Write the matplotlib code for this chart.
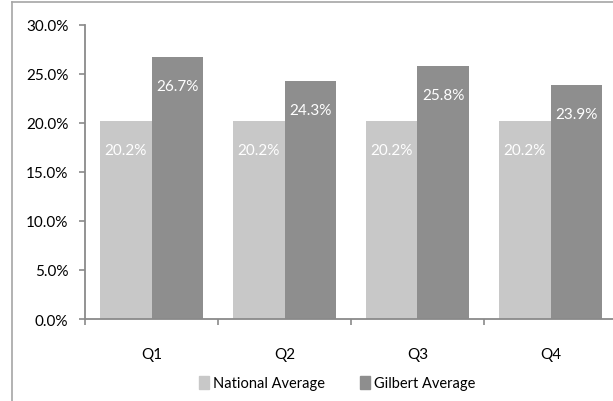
import matplotlib
matplotlib.use("Agg")
import matplotlib.pyplot as plt
from matplotlib.lines import Line2D
from matplotlib.patches import Patch
from matplotlib.ticker import PercentFormatter, FixedLocator
import numpy as np

quarters = ["Q1", "Q2", "Q3", "Q4"]
national = [0.202, 0.202, 0.202, 0.202]
gilbert = [0.267, 0.243, 0.258, 0.239]

c_nat = "#c8c8c8"
c_gil = "#8e8e8e"
c_axis = "#8a8a8a"

plt.rcParams["font.family"] = ["Lato", "DejaVu Sans"]
plt.rcParams["font.size"] = 11

W, H = 613, 402
fig = plt.figure(figsize=(W / 100, H / 100), dpi=100)

# plot area in pixel terms
left, right, bottom, top = 85, 617, 320, 25.7
ax = fig.add_axes([left / W, 1 - bottom / H, (right - left) / W, (bottom - top) / H])

x = np.arange(len(quarters))
w = 0.39
b1 = ax.bar(x - w / 2, national, w, color=c_nat, label="National Average")
b2 = ax.bar(x + w / 2, gilbert, w, color=c_gil, label="Gilbert Average")

for bars, vals in ((b1, national), (b2, gilbert)):
    for rect, v in zip(bars, vals):
        ax.annotate(f"{v * 100:.1f}%", (rect.get_x() + rect.get_width() / 2, v),
                    xytext=(0, -21), textcoords="offset points",
                    ha="center", va="center", color="white", fontsize=11)

ax.set_xlim(-0.5, len(quarters) - 0.5)
ax.set_ylim(0, 0.30)
ax.set_yticks(np.arange(0, 0.301, 0.05))
ax.yaxis.set_major_formatter(PercentFormatter(1.0, decimals=1))

ax.set_xticks(x)
ax.set_xticklabels(quarters)
ax.xaxis.set_minor_locator(FixedLocator(np.arange(-0.5, len(quarters), 1.0)))
ax.tick_params(axis="x", which="major", length=0, pad=20)
ax.tick_params(axis="x", which="minor", length=4, width=1.2, color=c_axis, direction="out")
ax.tick_params(axis="y", length=4, width=1.2, color=c_axis, pad=8)

for s in ("top", "right"):
    ax.spines[s].set_visible(False)
for s in ("left", "bottom"):
    ax.spines[s].set_color(c_axis)
    ax.spines[s].set_linewidth(1.3)

handles = [Patch(color=c_nat), Patch(color=c_gil)]
fig.legend(handles, ["National Average", "Gilbert Average"],
           loc="center", bbox_to_anchor=(337 / W, 1 - 384 / H), ncol=2,
           frameon=False, handlelength=0.7, handleheight=1.0, handletextpad=0.25,
           columnspacing=2.4, fontsize=10.5)

# chart border
fig.add_artist(Line2D([12 / W, 12 / W], [0, 1 - 3 / H], color="#a6a6a6", lw=1.2,
                      transform=fig.transFigure))
fig.add_artist(Line2D([12 / W, 1], [1 - 3 / H, 1 - 3 / H], color="#a6a6a6", lw=1.2,
                      transform=fig.transFigure))

fig.savefig("out.png", dpi=100)
